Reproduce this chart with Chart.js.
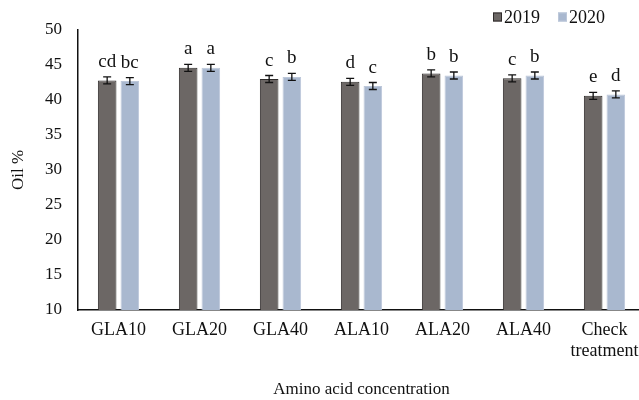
<!DOCTYPE html>
<html>
<head>
<meta charset="utf-8">
<title>Oil % by amino acid concentration</title>
<script src="https://cdn.jsdelivr.net/npm/chart.js@4.4.1/dist/chart.umd.min.js"></script>
<style>
  html, body { margin: 0; padding: 0; background: #fff; overflow: hidden; }
  #oilChart { display: block; }
</style>
</head>
<body>
<canvas id="oilChart" width="645" height="400"></canvas>
<script>
// Datos
const categories = ['GLA10', 'GLA20', 'GLA40', 'ALA10', 'ALA20', 'ALA40', ['Check', 'treatment']];
const oil2019 = [42.8, 44.6, 43.0, 42.6, 43.8, 43.1, 40.6];
const oil2020 = [42.7, 44.6, 43.3, 42.0, 43.5, 43.5, 40.8];
const err2019 = [0.5, 0.5, 0.5, 0.5, 0.5, 0.5, 0.5];
const err2020 = [0.5, 0.5, 0.5, 0.5, 0.5, 0.5, 0.5];
const letters2019 = ['cd', 'a', 'c', 'd', 'b', 'c', 'e'];
const letters2020 = ['bc', 'a', 'b', 'c', 'b', 'b', 'd'];
const yTicks = [10, 15, 20, 25, 30, 35, 40, 45, 50];

const FONT = 'Liberation Serif, Times New Roman, serif';

// Barras de error + letras de significancia
const errorBarsPlugin = {
  id: 'errorBars',
  afterDatasetsDraw(chart) {
    const { ctx, scales: { y } } = chart;
    chart.data.datasets.forEach((ds, i) => {
      const meta = chart.getDatasetMeta(i);
      meta.data.forEach((bar, j) => {
        const v = ds.data[j];
        const e = ds.errors[j];
        const top = y.getPixelForValue(v + e);
        const bot = y.getPixelForValue(v - e);
        ctx.save();
        ctx.strokeStyle = '#111';
        ctx.lineWidth = 1.3;
        ctx.beginPath();
        ctx.moveTo(bar.x, top); ctx.lineTo(bar.x, bot);
        ctx.moveTo(bar.x - 4, top); ctx.lineTo(bar.x + 4, top);
        ctx.moveTo(bar.x - 4, bot); ctx.lineTo(bar.x + 4, bot);
        ctx.stroke();
        ctx.fillStyle = '#111';
        ctx.font = '19px ' + FONT;
        ctx.textAlign = 'center';
        ctx.textBaseline = 'alphabetic';
        ctx.fillText(ds.letters[j], bar.x, top - 10);
        ctx.restore();
      });
    });
  }
};

// Leyenda arriba a la derecha
const legendPlugin = {
  id: 'topLegend',
  afterDraw(chart) {
    const { ctx } = chart;
    let x = 493;
    const yMid = 17;
    ctx.save();
    ctx.font = '18px ' + FONT;
    ctx.textBaseline = 'middle';
    ctx.textAlign = 'left';
    chart.data.datasets.forEach(ds => {
      ctx.fillStyle = ds.backgroundColor;
      ctx.strokeStyle = ds.borderColor;
      ctx.lineWidth = 1;
      ctx.fillRect(x, yMid - 4.5, 9, 9);
      ctx.strokeRect(x + 0.5, yMid - 4, 8, 8);
      ctx.fillStyle = '#111';
      ctx.fillText(ds.label, x + 11, yMid + 1);
      x += 11 + ctx.measureText(ds.label).width + 18;
    });
    ctx.restore();
  }
};

new Chart(document.getElementById('oilChart'), {
  type: 'bar',
  data: {
    labels: categories,
    datasets: [
      {
        label: '2019',
        data: oil2019,
        errors: err2019,
        letters: letters2019,
        backgroundColor: '#6c6765',
        borderColor: '#2e2b2a',
        borderWidth: 1
      },
      {
        label: '2020',
        data: oil2020,
        errors: err2020,
        letters: letters2020,
        backgroundColor: '#a9b8cf',
        borderColor: '#bcc7d9',
        borderWidth: 1
      }
    ]
  },
  options: {
    responsive: false,
    devicePixelRatio: 1,
    animation: false,
    layout: { padding: { top: 30, left: 0, right: 0, bottom: 0 } },
    categoryPercentage: 0.56,
    barPercentage: 0.82,
    plugins: {
      legend: { display: false },
      tooltip: { enabled: false }
    },
    scales: {
      x: {
        grid: { display: false, drawTicks: false },
        border: { display: true, color: '#111', width: 1.5 },
        ticks: {
          color: '#111',
          font: { family: FONT, size: 18 },
          maxRotation: 0,
          autoSkip: false,
          padding: 9
        },
        title: {
          display: true,
          text: 'Amino acid concentration',
          color: '#111',
          font: { family: FONT, size: 17 },
          padding: { top: 0, bottom: 0 }
        },
        afterFit: s => {
          s.height = 90;
          s.paddingLeft = 0;
          s.paddingRight = 0;
        }
      },
      y: {
        min: 10,
        max: 50,
        grid: { display: false, drawTicks: false },
        border: { display: true, color: '#111', width: 1.5 },
        afterBuildTicks: s => { s.ticks = yTicks.map(v => ({ value: v })); },
        ticks: {
          color: '#111',
          font: { family: FONT, size: 17 },
          padding: 16
        },
        title: {
          display: true,
          text: 'Oil %',
          color: '#111',
          font: { family: FONT, size: 17 },
          padding: { top: 8, bottom: 0 }
        },
        afterFit: s => { s.width = 78; }
      }
    }
  },
  plugins: [errorBarsPlugin, legendPlugin]
});
</script>
</body>
</html>
